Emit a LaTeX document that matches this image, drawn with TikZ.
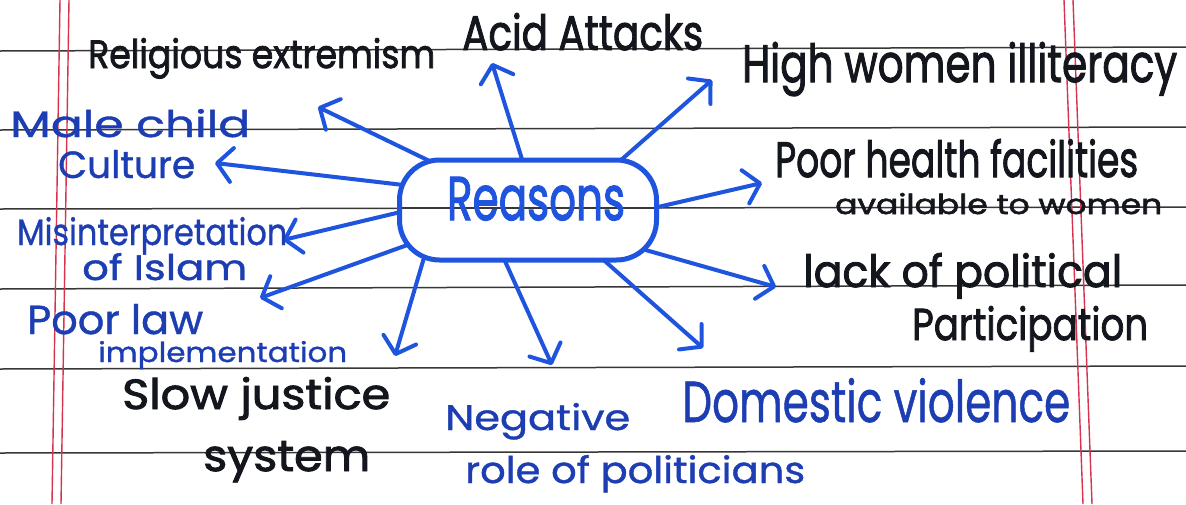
\documentclass[tikz,border=0pt]{standalone}
\usepackage{fontspec}
\usepackage{graphicx}
\newfontfamily\handbold{Poppins}[FakeBold=2]
\newfontfamily\hand{Poppins}[FakeBold=1]
\usetikzlibrary{arrows.meta}
\pgfdeclarelayer{paper}
\pgfdeclarelayer{ink}
\pgfsetlayers{paper,ink,main}
\definecolor{pen}{RGB}{30,84,222}
\definecolor{bluetext}{RGB}{28,62,178}
\definecolor{blacktext}{RGB}{20,22,30}
\definecolor{rulecol}{RGB}{55,55,55}
\definecolor{margincol}{RGB}{214,52,78}
\newcommand\wl[3]{\resizebox{#1pt}{#2pt}{#3}}
\begin{document}
\begin{tikzpicture}[x=1pt,y=-1pt,
  lab/.style={inner sep=0pt, anchor=base west},
  blk/.style={lab, text=blacktext, font=\handbold},
  blu/.style={lab, text=bluetext, font=\hand},
  link/.style={draw=pen, line width=4pt, line cap=round, line join=round,
    -{Straight Barb[length=15pt,width=34pt,round]}},
  rulestyle/.style={draw=rulecol, line width=1.5pt},
  marginstyle/.style={draw=margincol, line width=1.4pt}]

\useasboundingbox (0,0) rectangle (1186,504);

\begin{pgfonlayer}{paper}
  \fill[white] (0,0) rectangle (1186,504);
  \foreach \a/\b in {51/47, 130/127, 209/207, 289/285, 369/366, 453/451}
    \draw[rulestyle] (0,\a) -- (1186,\b);
  \draw[marginstyle] (60,0) -- (52,504);
  \draw[marginstyle] (69,0) -- (61,504);
  \draw[marginstyle] (1064,0) -- (1083,504);
  \draw[marginstyle] (1073,0) -- (1092,504);
\end{pgfonlayer}

% central node
\node[draw=pen, line width=5pt, fill=white, rounded corners=40pt,
      minimum width=257pt, minimum height=100pt, inner sep=0pt,
      text=pen, font=\handbold, text height=30pt, text depth=10pt,
      path picture={\draw[rulestyle] ([yshift=2pt]path picture bounding box.west)
                    -- ([yshift=2pt]path picture bounding box.east);}]
  (reasons) at (528,210) {\hspace*{16pt}\wl{178}{43}{Reasons}};

% labels
\node[blk] (rel)     at (88,68)   {\wl{347}{30}{Religious extremism}};
\node[blk] (acid)    at (462,50)  {\wl{241}{37}{Acid Attacks}};
\node[blk] (high)    at (742,82)  {\wl{435}{40}{High women illiteracy}};
\node[blu] (male1)   at (10,137)  {\wl{240}{28}{Male child}};
\node[blu] (male2)   at (58,178)  {\wl{137}{28}{Culture}};
\node[blk] (health1) at (775,177) {\wl{363}{38}{Poor health facilities}};
\node[blk] (health2) at (835,214) {\wl{327}{21}{available to women}};
\node[blu] (misint1) at (17,245)  {\wl{270}{28}{Misinterpretation}};
\node[blu] (misint2) at (82,280)  {\wl{165}{27}{of Islam}};
\node[blk] (lack1)   at (803,287) {\wl{319}{34}{lack of political}};
\node[blk] (lack2)   at (912,340) {\wl{236}{34}{Participation}};
\node[blu] (law1)    at (27,334)  {\wl{176}{30}{Poor law}};
\node[blu] (law2)    at (98,362)  {\wl{249}{21}{implementation}};
\node[blk] (slow1)   at (122,409) {\wl{268}{32}{Slow justice}};
\node[blk] (slow2)   at (203,471) {\wl{167}{30}{system}};
\node[blu] (neg1)    at (445,430) {\wl{185}{27}{Negative}};
\node[blu] (neg2)    at (465,483) {\wl{340}{28}{role of politicians}};
\node[blu] (dom)     at (682,422) {\wl{388}{44}{Domestic violence}};

% arrow tips
\coordinate (tRel)    at (318,107);
\coordinate (tAcid)   at (492,63);
\coordinate (tHigh)   at (712,80);
\coordinate (tMale)   at (215,163);
\coordinate (tMis)    at (283,240);
\coordinate (tLaw)    at (260,298);
\coordinate (tSlow)   at (395,356);
\coordinate (tNeg)    at (552,365);
\coordinate (tDom)    at (703,348);
\coordinate (tLack)   at (776,287);
\coordinate (tHealth) at (762,183);

\begin{pgfonlayer}{ink}
  \draw[link] ([shift={(-84,-42)}]reasons.center) -- (tRel);
  \draw[link] ([shift={(-2,-38)}]reasons.center)  -- (tAcid);
  \draw[link] ([shift={(76,-35)}]reasons.center)  -- (tHigh);
  \draw[link] ([shift={(-116,-24)}]reasons.center) -- (tMale);
  \draw[link] ([shift={(-119,0)}]reasons.center)  -- (tMis);
  \draw[link] ([shift={(-104,29)}]reasons.center) -- (tLaw);
  \draw[link] ([shift={(-97,24)}]reasons.center)  -- (tSlow);
  \draw[link] ([shift={(-33,29)}]reasons.center)  -- (tNeg);
  \draw[link] ([shift={(70,45)}]reasons.center)   -- (tDom);
  \draw[link] ([shift={(107,37)}]reasons.center)  -- (tLack);
  \draw[link] ([shift={(117,0)}]reasons.center)   -- (tHealth);
\end{pgfonlayer}
\end{tikzpicture}
\end{document}
